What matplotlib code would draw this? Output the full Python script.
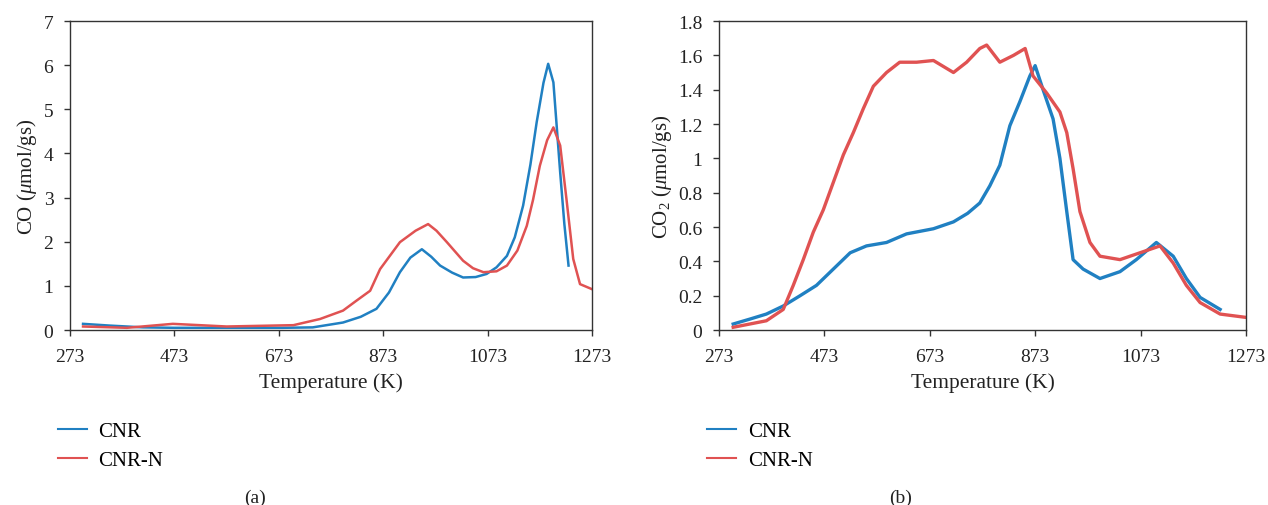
import matplotlib
matplotlib.use('Agg')
import matplotlib.pyplot as plt
from matplotlib.ticker import FuncFormatter

plt.rcParams['font.family'] = ['Liberation Serif', 'DejaVu Serif']
plt.rcParams['mathtext.fontset'] = 'custom'
plt.rcParams['mathtext.rm'] = 'Liberation Serif'
plt.rcParams['mathtext.it'] = 'Liberation Serif:italic'

BLUE = '#2080c2'
RED = '#e05252'

# ----------- CO (a) -----------
co_cnr_t = [298, 350, 413, 473, 550, 620, 680, 738, 796, 830, 860, 884, 905, 925,
            947, 965, 982, 1005, 1026, 1050, 1071, 1090, 1110, 1125, 1141, 1155,
            1167, 1180, 1189, 1199, 1212, 1220, 1228]
co_cnr = [0.14, 0.10, 0.06, 0.05, 0.05, 0.05, 0.05, 0.06, 0.17, 0.30, 0.48, 0.85,
          1.31, 1.64, 1.83, 1.66, 1.46, 1.30, 1.19, 1.20, 1.27, 1.42, 1.68, 2.10,
          2.82, 3.75, 4.71, 5.60, 6.03, 5.61, 3.57, 2.40, 1.46]

co_cnrn_t = [298, 382, 470, 573, 701, 752, 796, 820, 848, 867, 905, 935, 959, 975,
             995, 1026, 1045, 1065, 1090, 1110, 1130, 1148, 1160, 1173, 1187, 1199,
             1212, 1224, 1237, 1250, 1272]
co_cnrn = [0.08, 0.05, 0.14, 0.08, 0.11, 0.25, 0.44, 0.65, 0.89, 1.38, 1.99, 2.25,
           2.40, 2.25, 1.99, 1.57, 1.40, 1.31, 1.33, 1.46, 1.80, 2.36, 2.95, 3.72,
           4.30, 4.59, 4.18, 2.97, 1.61, 1.04, 0.93]

# ----------- CO2 (b) -----------
co2_cnr_t = [300, 332, 363, 395, 427, 458, 490, 522, 553, 591, 629, 680, 718, 745,
             768, 787, 806, 825, 844, 863, 873, 888, 907, 920, 933, 945, 964, 996,
             1034, 1065, 1103, 1135, 1160, 1186, 1224]
co2_cnr = [0.035, 0.064, 0.093, 0.14, 0.20, 0.26, 0.355, 0.45, 0.49, 0.51, 0.56,
           0.59, 0.63, 0.68, 0.74, 0.84, 0.96, 1.19, 1.33, 1.48, 1.54, 1.40, 1.23,
           1.00, 0.69, 0.41, 0.355, 0.30, 0.34, 0.41, 0.51, 0.43, 0.30, 0.19, 0.12]

co2_cnrn_t = [300, 363, 395, 414, 433, 452, 471, 490, 509, 528, 547, 566, 591, 616,
              648, 680, 718, 743, 768, 781, 806, 832, 854, 869, 895, 920, 933, 945,
              958, 977, 996, 1034, 1072, 1110, 1135, 1160, 1186, 1224, 1272]
co2_cnrn = [0.016, 0.054, 0.12, 0.26, 0.41, 0.57, 0.70, 0.86, 1.02, 1.15, 1.29,
            1.42, 1.50, 1.56, 1.56, 1.57, 1.50, 1.56, 1.64, 1.66, 1.56, 1.60, 1.64,
            1.48, 1.38, 1.27, 1.15, 0.94, 0.69, 0.51, 0.43, 0.41, 0.45, 0.49, 0.39,
            0.26, 0.16, 0.093, 0.074]

x_ticks = [273, 473, 673, 873, 1073, 1273]
labels = ['CNR', 'CNR-N']

fig = plt.figure(figsize=(12.68, 5.06), dpi=100)
ax1 = fig.add_axes([0.0552, 0.3458, 0.4117, 0.6107])
ax2 = fig.add_axes([0.5670, 0.3458, 0.4156, 0.6107])


def style_axis(ax, ymax, ystep, ylabel):
    ax.set_xlim(273, 1273)
    ax.set_ylim(0, ymax)
    ax.set_xticks(x_ticks)
    n = int(round(ymax / ystep))
    ax.set_yticks([i * ystep for i in range(n + 1)])
    ax.yaxis.set_major_formatter(FuncFormatter(lambda v, p: '%g' % round(v, 2)))
    ax.tick_params(direction='out', length=4, width=1, labelsize=14,
                   color='#333333', labelcolor='#222222')
    ax.tick_params(axis='x', pad=9)
    ax.tick_params(axis='y', pad=8)
    for s in ax.spines.values():
        s.set_color('#333333')
        s.set_linewidth(1)
    ax.set_xlabel('Temperature (K)', fontsize=15.5, color='#222222', labelpad=5)
    ax.set_ylabel(ylabel, fontsize=15, color='#222222', labelpad=3)


ax1.plot(co_cnr_t, co_cnr, color=BLUE, lw=1.8, label=labels[0])
ax1.plot(co_cnrn_t, co_cnrn, color=RED, lw=1.8, label=labels[1])
style_axis(ax1, 7, 1, r'CO ($\mathit{\mu}$mol/gs)')

ax2.plot(co2_cnr_t, co2_cnr, color=BLUE, lw=2.4, label=labels[0])
ax2.plot(co2_cnrn_t, co2_cnrn, color=RED, lw=2.4, label=labels[1])
style_axis(ax2, 1.8, 0.2, r'CO$_2$ ($\mathit{\mu}$mol/gs)')

for ax, lx in [(ax1, 0.039), (ax2, 0.551)]:
    leg = ax.legend(loc='upper left', bbox_to_anchor=(lx, 0.181),
                    bbox_transform=fig.transFigure, frameon=False, fontsize=15,
                    handlelength=1.4, handletextpad=0.55, labelspacing=0.45,
                    borderaxespad=0)
    for h in leg.get_lines():
        h.set_linewidth(1.5)

fig.text(0.201, 0.016, '(a)', fontsize=14, ha='center', va='center', color='#222222')
fig.text(0.710, 0.016, '(b)', fontsize=14, ha='center', va='center', color='#222222')

fig.savefig('out.png', dpi=100)
